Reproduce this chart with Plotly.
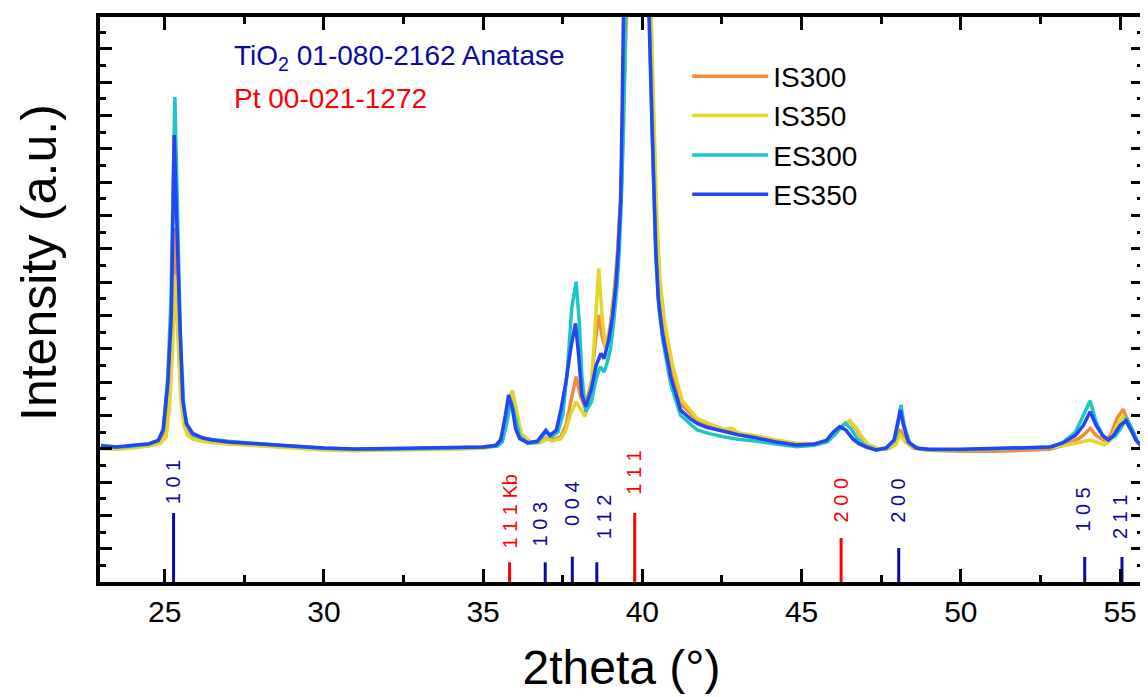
import plotly.graph_objects as go

# ---------------- data ----------------
series_names = ["IS300", "IS350", "ES300", "ES350"]
series_colors = ["#F28C38", "#E3D62A", "#1CC6C6", "#2444F5"]

is300_x = [23.0, 23.5, 24.0, 24.5, 24.8, 25.0, 25.12, 25.22, 25.3, 25.4, 25.48, 25.58, 25.7, 25.9, 26.3, 27.0, 28.0, 29.0, 30.0, 31.0, 32.0, 33.0, 34.0, 35.0, 35.45, 35.6, 35.75, 35.9, 36.05, 36.2, 36.5, 36.8, 37.0, 37.2, 37.44, 37.6, 37.75, 37.92, 38.05, 38.2, 38.4, 38.52, 38.63, 38.75, 38.85, 38.98, 39.1, 39.22, 39.32, 39.42, 39.5, 39.6, 39.85, 40.1, 40.26, 40.36, 40.46, 40.56, 40.7, 40.95, 41.25, 41.72, 42.1, 42.55, 43.0, 43.6, 44.2, 44.84, 45.4, 45.8, 46.1, 46.3, 46.51, 46.7, 46.9, 47.1, 47.4, 47.7, 47.95, 48.1, 48.25, 48.5, 49.0, 50.0, 51.0, 52.0, 52.8, 53.3, 53.7, 53.9, 54.06, 54.25, 54.5, 54.7, 54.9, 55.1, 55.3, 55.5, 55.7]
is300_y = [405, 402, 407, 412, 420, 450, 560, 760, 1062, 820, 640, 500, 458, 436, 424, 416, 410, 404, 398, 396, 396, 398, 400, 402, 410, 440, 520, 571, 500, 440, 418, 420, 432, 428, 436, 470, 540, 616, 560, 522, 600, 720, 801, 730, 700, 760, 860, 990, 1160, 1420, 1695, 2600, 4500, 2600, 1695, 1347, 1020, 870, 760, 630, 530, 486, 470, 455, 444, 434, 422, 412, 412, 424, 450, 470, 484, 460, 430, 410, 398, 400, 412, 458, 425, 402, 395, 392, 392, 394, 398, 412, 430, 445, 461, 440, 424, 440, 490, 518, 470, 425, 400]

is350_x = [23.0, 23.5, 24.0, 24.5, 24.85, 25.05, 25.15, 25.25, 25.32, 25.42, 25.5, 25.6, 25.72, 25.9, 26.3, 27.0, 28.0, 29.0, 30.0, 31.0, 32.0, 33.0, 34.0, 35.0, 35.45, 35.6, 35.75, 35.92, 36.05, 36.2, 36.5, 36.8, 37.0, 37.2, 37.44, 37.6, 37.75, 37.92, 38.05, 38.2, 38.4, 38.52, 38.63, 38.75, 38.85, 38.98, 39.1, 39.22, 39.32, 39.42, 39.51, 39.6, 39.85, 40.1, 40.26, 40.36, 40.46, 40.56, 40.7, 40.95, 41.25, 41.72, 42.1, 42.55, 42.8, 43.0, 43.6, 44.2, 44.84, 45.4, 45.8, 46.1, 46.3, 46.51, 46.7, 46.9, 47.1, 47.4, 47.7, 47.95, 48.1, 48.25, 48.5, 49.0, 50.0, 51.0, 52.0, 52.8, 53.3, 53.7, 53.9, 54.06, 54.25, 54.5, 54.7, 54.9, 55.1, 55.3, 55.5, 55.7]
is350_y = [400, 398, 402, 408, 415, 435, 520, 700, 921, 720, 560, 470, 440, 428, 420, 414, 408, 402, 396, 394, 395, 397, 399, 401, 408, 432, 510, 575, 510, 445, 420, 418, 428, 424, 430, 456, 505, 541, 520, 496, 590, 760, 941, 780, 700, 750, 850, 980, 1140, 1380, 1695, 2500, 4500, 2650, 1760, 1400, 1080, 900, 780, 650, 545, 490, 475, 458, 462, 448, 438, 426, 416, 414, 424, 448, 470, 484, 465, 435, 412, 400, 402, 412, 441, 420, 403, 397, 396, 398, 400, 404, 410, 418, 424, 426, 420, 411, 425, 470, 496, 462, 425, 402]

es300_x = [23.0, 23.5, 24.0, 24.5, 24.8, 24.97, 25.1, 25.2, 25.32, 25.42, 25.5, 25.6, 25.7, 25.9, 26.3, 27.0, 28.0, 29.0, 30.0, 31.0, 32.0, 33.0, 34.0, 35.0, 35.45, 35.6, 35.75, 35.87, 36.0, 36.15, 36.4, 36.7, 36.97, 37.15, 37.35, 37.5, 37.65, 37.78, 37.92, 38.02, 38.1, 38.22, 38.4, 38.55, 38.68, 38.8, 38.9, 39.0, 39.1, 39.2, 39.28, 39.36, 39.45, 39.55, 39.8, 40.05, 40.22, 40.32, 40.42, 40.52, 40.65, 40.9, 41.2, 41.72, 42.1, 42.55, 43.0, 43.6, 44.2, 44.84, 45.4, 45.8, 46.05, 46.2, 46.38, 46.55, 46.75, 47.0, 47.34, 47.65, 47.95, 48.05, 48.12, 48.22, 48.4, 48.7, 49.0, 50.0, 51.0, 52.0, 52.8, 53.2, 53.6, 53.85, 54.06, 54.25, 54.45, 54.63, 54.85, 55.05, 55.2, 55.4, 55.55, 55.7]
es300_y = [410, 404, 408, 414, 424, 460, 620, 850, 1455, 1000, 720, 530, 470, 440, 430, 422, 414, 407, 401, 398, 398, 400, 402, 404, 408, 420, 480, 545, 500, 438, 416, 418, 448, 436, 450, 500, 640, 820, 901, 780, 620, 511, 540, 610, 646, 630, 660, 700, 780, 880, 1000, 1200, 1550, 2500, 4500, 2600, 1695, 1320, 980, 820, 720, 590, 500, 456, 445, 436, 428, 422, 414, 406, 410, 420, 442, 462, 476, 460, 430, 408, 396, 400, 430, 490, 531, 470, 415, 400, 397, 397, 399, 401, 404, 418, 450, 500, 544, 480, 440, 426, 438, 465, 492, 455, 422, 404]

es350_x = [23.0, 23.5, 24.0, 24.5, 24.8, 24.95, 25.1, 25.21, 25.3, 25.4, 25.47, 25.57, 25.68, 25.88, 26.2, 26.5, 27.0, 28.0, 29.0, 30.0, 31.0, 32.0, 33.0, 34.0, 35.0, 35.4, 35.55, 35.7, 35.8, 35.92, 36.02, 36.15, 36.4, 36.7, 36.97, 37.1, 37.3, 37.45, 37.6, 37.75, 37.9, 38.0, 38.1, 38.23, 38.4, 38.55, 38.7, 38.8, 38.95, 39.06, 39.17, 39.24, 39.32, 39.37, 39.43, 39.55, 39.8, 40.05, 40.21, 40.31, 40.42, 40.5, 40.63, 40.89, 41.2, 41.5, 41.72, 42.0, 42.55, 43.0, 43.6, 44.2, 44.84, 45.4, 45.78, 46.0, 46.2, 46.4, 46.6, 46.8, 47.03, 47.34, 47.65, 47.9, 48.0, 48.1, 48.2, 48.35, 48.6, 49.0, 50.0, 51.0, 52.0, 52.8, 53.2, 53.6, 53.85, 54.06, 54.25, 54.45, 54.63, 54.8, 55.0, 55.19, 55.35, 55.5, 55.7]
es350_y = [408, 405, 410, 414, 425, 456, 596, 800, 1341, 1000, 796, 546, 476, 446, 432, 426, 420, 414, 408, 402, 399, 400, 401, 402, 405, 410, 425, 500, 561, 520, 460, 430, 418, 422, 455, 440, 456, 520, 600, 700, 776, 680, 560, 526, 580, 650, 686, 670, 730, 796, 896, 996, 1146, 1446, 1695, 2600, 4500, 2600, 1695, 1347, 1000, 850, 747, 616, 516, 490, 476, 465, 451, 442, 432, 420, 411, 414, 425, 450, 466, 455, 430, 415, 405, 396, 402, 425, 470, 516, 470, 420, 402, 398, 398, 400, 402, 405, 417, 440, 470, 511, 470, 440, 426, 440, 470, 484, 455, 425, 406]

# reference patterns (stick positions, heights, labels)
anatase_pos = [25.28, 36.95, 37.80, 38.57, 48.05, 53.89, 55.06]
anatase_h = [207, 59, 76, 59, 102, 75, 75]
anatase_lbl = ["1 0 1", "1 0 3", "0 0 4", "1 1 2", "2 0 0", "1 0 5", "2 1 1"]
anatase_lbl_x = [25.27, 36.80, 37.79, 38.80, 48.02, 53.85, 55.00]
anatase_lbl_y = [300, 174, 234, 195, 243, 218, 195]

pt_pos = [35.83, 39.76, 46.24]
pt_h = [59, 207, 132]
pt_lbl = ["1 1 1 Kb", "1 1 1", "2 0 0"]
pt_lbl_x = [35.85, 39.74, 46.25]
pt_lbl_y = [212, 328, 246]

x_ticks = [25, 30, 35, 40, 45, 50, 55]

NAVY = "#0A0AA0"
RED = "#FF0000"
FONT = "Liberation Sans, Arial, sans-serif"

fig = go.Figure()

xs = [is300_x, is350_x, es300_x, es350_x]
ys = [is300_y, is350_y, es300_y, es350_y]
for name, col, x, y in zip(series_names, series_colors, xs, ys):
    fig.add_trace(go.Scatter(x=x, y=y, mode="lines", name=name,
                             line=dict(color=col, width=3.5)))

def sticks(pos, h):
    sx, sy = [], []
    for p, v in zip(pos, h):
        sx += [p, p, None]
        sy += [0, v, None]
    return sx, sy

ax_, ay_ = sticks(anatase_pos, anatase_h)
fig.add_trace(go.Scatter(x=ax_, y=ay_, mode="lines", line=dict(color=NAVY, width=3),
                         showlegend=False, hoverinfo="skip"))
px_, py_ = sticks(pt_pos, pt_h)
fig.add_trace(go.Scatter(x=px_, y=py_, mode="lines", line=dict(color=RED, width=3),
                         showlegend=False, hoverinfo="skip"))

for t, x, y in zip(anatase_lbl, anatase_lbl_x, anatase_lbl_y):
    fig.add_annotation(x=x, y=y, text=t, textangle=-90, showarrow=False,
                       font=dict(size=20, color=NAVY, family=FONT))
for t, x, y in zip(pt_lbl, pt_lbl_x, pt_lbl_y):
    fig.add_annotation(x=x, y=y, text=t, textangle=-90, showarrow=False,
                       font=dict(size=20, color=RED, family=FONT))

fig.add_annotation(xref="paper", yref="paper", x=0.127, y=0.929, xanchor="left", yanchor="middle",
                   text="TiO<sub>2</sub> 01-080-2162 Anatase", showarrow=False,
                   font=dict(size=28, color=NAVY, family=FONT))
fig.add_annotation(xref="paper", yref="paper", x=0.127, y=0.855, xanchor="left", yanchor="middle",
                   text="Pt 00-021-1272", showarrow=False,
                   font=dict(size=28, color=RED, family=FONT))

# y-axis title (sits above the axis centre in the reference)
fig.add_annotation(xref="paper", yref="paper", x=-0.0865, y=0.566, xanchor="left", yanchor="middle",
                   text="Intensity (a.u.)", textangle=-90, showarrow=False, borderpad=0,
                   font=dict(size=50, color="black", family=FONT))

axis_common = dict(showgrid=False, zeroline=False, showline=True, linecolor="black",
                   linewidth=4, mirror="ticks", ticks="inside", tickcolor="black",
                   tickwidth=3)

fig.update_xaxes(range=[22.97, 55.72], tickmode="array", tickvals=x_ticks, ticklen=13,
                 tickfont=dict(size=30, color="black", family=FONT),
                 title=dict(text="2theta (°)", font=dict(size=48, color="black", family=FONT), standoff=24),
                 minor=dict(tickmode="array", tickvals=[27.5, 32.5, 37.5, 42.5, 47.5, 52.5],
                            ticks="inside", ticklen=7, tickwidth=3, tickcolor="black"),
                 **axis_common)
fig.update_yaxes(range=[0, 1695], dtick=100, tick0=0, ticklen=12, showticklabels=False,
                 minor=dict(dtick=50, tick0=0, ticks="inside", ticklen=6, tickwidth=3, tickcolor="black"),
                 **axis_common)

# page body has an 8px default margin, so the figure is sized to fill the rest of the window
fig.update_layout(
    width=1140, height=689,
    margin=dict(l=92, r=1, t=9, b=115),
    paper_bgcolor="white", plot_bgcolor="white",
    showlegend=True,
    legend=dict(x=0.563, y=0.939, xanchor="left", yanchor="top", bgcolor="rgba(0,0,0,0)",
                font=dict(size=28, color="black", family=FONT), itemwidth=76,
                tracegroupgap=0),
)

fig.write_html("out.html")
